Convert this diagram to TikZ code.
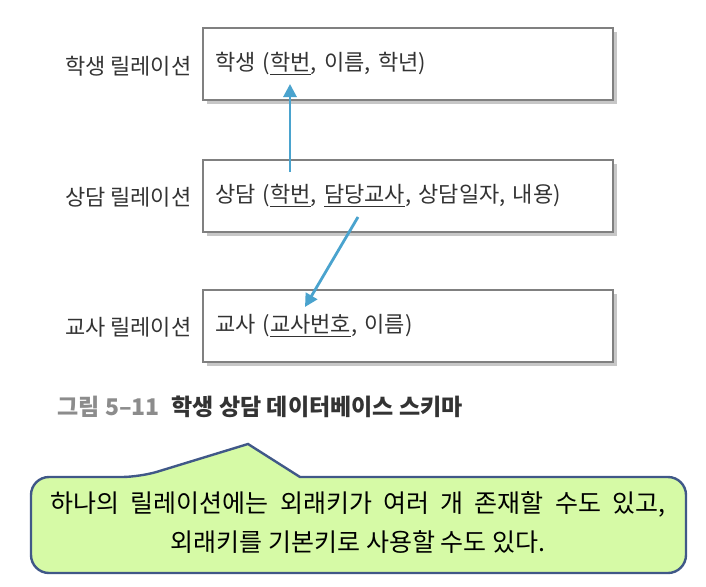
\documentclass[tikz,border=0pt]{standalone}
\usepackage{fontspec}
\setmainfont{Noto Sans CJK KR}
\usetikzlibrary{arrows.meta,shadows}
\definecolor{fkblue}{RGB}{74,163,206}
\definecolor{notefill}{RGB}{214,250,166}
\definecolor{noteline}{RGB}{64,88,136}

\begin{document}
\begin{tikzpicture}[
  x=1pt, y=-1pt,
  >={Triangle[length=13pt,width=13pt]},
  every node/.style={font=\fontsize{22}{26}\selectfont, text=black!80},
  relbox/.style={draw=black!50, line width=1.8pt, fill=white,
    minimum width=410pt, minimum height=72pt, text width=386pt,
    inner xsep=12pt, align=left,
    drop shadow={shadow xshift=4pt, shadow yshift=-4pt,
      fill=black!22, opacity=1}},
  fk/.style={->, fkblue, line width=2.8pt},
]
\useasboundingbox (0,0) rectangle (706,586);

% Relations
\node[relbox] (stuBox) at (408,64) {학생 (\underline{학번}, 이름, 학년)};
\node[relbox] (cnsBox) at (408,196)
  {상담 (\underline{학번}, \underline{담당교사}, 상담일자, 내용)};
\node[relbox] (tchBox) at (408,326) {교사 (\underline{교사번호}, 이름)};

% Names on the left
\node[anchor=east] (stuLbl) at (195,66) {학생 릴레이션};
\node[anchor=east] (cnsLbl) at (195,197) {상담 릴레이션};
\node[anchor=east] (tchLbl) at (195,327) {교사 릴레이션};

% Foreign keys
\coordinate (hakFrom) at (290,172);
\coordinate (hakTo) at (290,84);
\coordinate (tchFrom) at (358,217);
\coordinate (tchTo) at (305,307);
\draw[fk] (hakFrom) -- (hakTo);
\draw[fk] (tchFrom) -- (tchTo);

% Caption
\node[anchor=west, font=\fontsize{23}{26}\selectfont\bfseries]
  (caption) at (54,407)
  {\textcolor{black!45}{그림 5--11}\hspace{12pt}학생 상담 데이터베이스 스키마};

% Callout
\draw[fill=notefill, draw=noteline, line width=2.4pt]
  (248,444) -- (300,477) [rounded corners=18pt] -- (686,477) -- (686,573)
  -- (31,573) -- (31,477) -- (140,477) [sharp corners] -- cycle;
\node[text=black, font=\fontsize{25}{39}\selectfont, align=center]
  (noteText) at (358,523)
  {\spaceskip=0.45em
   하나의 릴레이션에는 외래키가 여러 개 존재할 수도 있고,\\
   외래키를 기본키로 사용할 수도 있다.};
\end{tikzpicture}
\end{document}
